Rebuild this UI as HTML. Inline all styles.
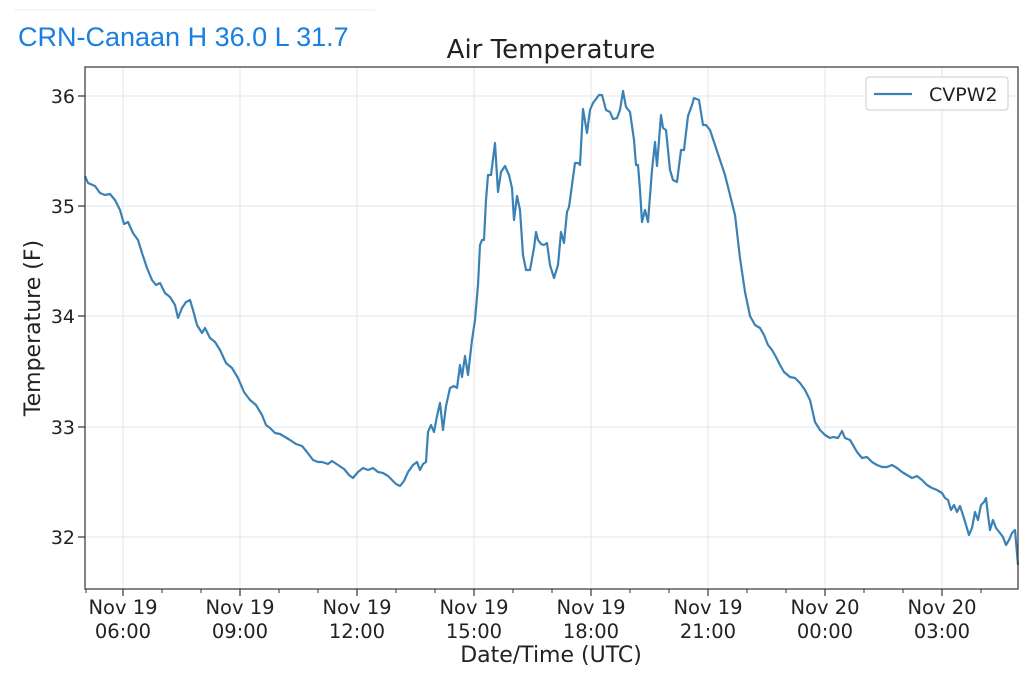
<!DOCTYPE html>
<html><head><meta charset="utf-8"><style>
body{margin:0;background:#fff;width:1024px;height:683px;overflow:hidden;font-family:"DejaVu Sans","Liberation Sans",sans-serif}
</style></head><body>
<svg width="1024" height="683" viewBox="0 0 1024 683" xmlns="http://www.w3.org/2000/svg" font-family="DejaVu Sans, Liberation Sans, sans-serif">
<line x1="14" y1="10" x2="375" y2="10" stroke="#eee" stroke-width="1"/>
<text x="18" y="46" font-family="Liberation Sans, sans-serif" font-size="27" fill="#1a7fe0">CRN-Canaan H 36.0 L 31.7</text>
<text x="551" y="58" text-anchor="middle" font-size="26" fill="#222">Air Temperature</text>
<g stroke="#e6e6e6" stroke-width="1">
<line x1="123" y1="67" x2="123" y2="589"/><line x1="240" y1="67" x2="240" y2="589"/><line x1="357" y1="67" x2="357" y2="589"/><line x1="474" y1="67" x2="474" y2="589"/><line x1="591" y1="67" x2="591" y2="589"/><line x1="708" y1="67" x2="708" y2="589"/><line x1="825" y1="67" x2="825" y2="589"/><line x1="942" y1="67" x2="942" y2="589"/>
<line x1="85" y1="96" x2="1018" y2="96"/><line x1="85" y1="206" x2="1018" y2="206"/><line x1="85" y1="316" x2="1018" y2="316"/><line x1="85" y1="427" x2="1018" y2="427"/><line x1="85" y1="537" x2="1018" y2="537"/>
</g>
<polyline fill="none" stroke="#3a82b5" stroke-width="2.2" stroke-linejoin="round" points="85,176 88,183 95,186 100,193 105,195 110,194 115,200 120,210 124,224 128,222 133,233 138,240 142,253 147,268 152,280 156,285 160,283 165,293 170,297 175,305 178,318 182,308 186,302 190,300 193,310 197,325 202,333 205,328 210,338 215,342 220,350 226,363 232,368 238,378 244,392 250,400 256,405 262,415 266,425 270,428 275,433 280,434 285,437 290,440 296,444 302,446 307,452 313,460 318,462 322,462 328,464 332,461 338,465 344,469 349,475 353,478 358,472 363,468 368,470 373,468 378,472 383,473 388,476 392,480 396,484 400,486 404,481 408,472 413,465 417,462 420,470 423,464 426,462 428,432 431,425 434,432 437,416 440,403 443,430 446,406 450,388 454,386 457,388 460,365 462,377 465,356 468,375 472,340 475,320 478,285 480,245 482,240 484,240 486,200 488,175 491,175 495,143 498,192 501,172 505,166 509,175 512,188 514,220 517,196 520,210 523,255 526,270 530,270 534,248 536,232 538,240 541,244 544,245 547,243 550,265 554,278 558,265 561,232 564,243 567,212 569,207 572,185 575,163 578,163 580,165 583,109 587,133 590,110 593,103 599,95 602,95 606,110 610,112 613,119 617,118 620,110 623,91 626,107 630,112 634,140 636,165 638,165 640,190 642,222 645,210 648,222 652,170 655,142 657,166 661,115 663,128 666,130 670,170 673,180 677,182 681,150 684,150 688,116 692,105 694,98 699,100 703,125 706,125 710,130 715,145 720,160 725,175 730,195 735,215 740,258 745,292 750,316 755,325 760,328 764,335 768,345 772,350 776,357 780,365 784,372 790,377 795,378 800,383 805,390 810,400 815,422 820,430 825,435 830,438 833,437 838,438 842,431 845,438 850,440 853,445 857,452 862,458 867,457 872,462 877,465 882,467 887,467 892,465 897,468 902,472 907,475 912,478 917,476 922,480 927,485 932,488 937,490 942,493 945,498 948,500 951,510 954,505 957,512 960,506 963,515 966,525 969,535 972,528 975,512 978,520 981,505 984,502 986,498 988,515 990,530 993,520 996,528 1000,533 1003,537 1006,545 1009,540 1012,533 1015,530 1018,565"/>
<rect x="85" y="67" width="933" height="522" fill="none" stroke="#333" stroke-width="1.2"/>
<g stroke="#333" stroke-width="1.2">
<line x1="123" y1="589" x2="123" y2="596"/><line x1="240" y1="589" x2="240" y2="596"/><line x1="357" y1="589" x2="357" y2="596"/><line x1="474" y1="589" x2="474" y2="596"/><line x1="591" y1="589" x2="591" y2="596"/><line x1="708" y1="589" x2="708" y2="596"/><line x1="825" y1="589" x2="825" y2="596"/><line x1="942" y1="589" x2="942" y2="596"/>
<line x1="78" y1="96" x2="85" y2="96"/><line x1="78" y1="206" x2="85" y2="206"/><line x1="78" y1="316" x2="85" y2="316"/><line x1="78" y1="427" x2="85" y2="427"/><line x1="78" y1="537" x2="85" y2="537"/>
</g>
<g stroke="#333" stroke-width="1">
<line x1="86" y1="589" x2="86" y2="593"/><line x1="162" y1="589" x2="162" y2="593"/><line x1="201" y1="589" x2="201" y2="593"/><line x1="279" y1="589" x2="279" y2="593"/><line x1="318" y1="589" x2="318" y2="593"/><line x1="396" y1="589" x2="396" y2="593"/><line x1="435" y1="589" x2="435" y2="593"/><line x1="513" y1="589" x2="513" y2="593"/><line x1="552" y1="589" x2="552" y2="593"/><line x1="630" y1="589" x2="630" y2="593"/><line x1="669" y1="589" x2="669" y2="593"/><line x1="747" y1="589" x2="747" y2="593"/><line x1="786" y1="589" x2="786" y2="593"/><line x1="864" y1="589" x2="864" y2="593"/><line x1="903" y1="589" x2="903" y2="593"/><line x1="981" y1="589" x2="981" y2="593"/>
</g>
<g font-size="19" fill="#222" text-anchor="end">
<text x="75" y="103">36</text><text x="75" y="213">35</text><text x="75" y="323">34</text><text x="75" y="434">33</text><text x="75" y="544">32</text>
</g>
<g font-size="19.5" fill="#222" text-anchor="middle">
<text x="123" y="614">Nov 19</text><text x="123" y="638">06:00</text>
<text x="240" y="614">Nov 19</text><text x="240" y="638">09:00</text>
<text x="357" y="614">Nov 19</text><text x="357" y="638">12:00</text>
<text x="474" y="614">Nov 19</text><text x="474" y="638">15:00</text>
<text x="591" y="614">Nov 19</text><text x="591" y="638">18:00</text>
<text x="708" y="614">Nov 19</text><text x="708" y="638">21:00</text>
<text x="825" y="614">Nov 20</text><text x="825" y="638">00:00</text>
<text x="942" y="614">Nov 20</text><text x="942" y="638">03:00</text>
</g>
<text x="551" y="662" text-anchor="middle" font-size="22" fill="#222">Date/Time (UTC)</text>
<text transform="translate(40,328) rotate(-90)" text-anchor="middle" font-size="22" fill="#222">Temperature (F)</text>
<rect x="866" y="77" width="142" height="33" rx="3" fill="#fff" stroke="#ccc"/>
<line x1="874" y1="94" x2="912" y2="94" stroke="#3a82b5" stroke-width="2.2"/>
<text x="929" y="101" font-size="19" fill="#222">CVPW2</text>
</svg>
</body></html>
